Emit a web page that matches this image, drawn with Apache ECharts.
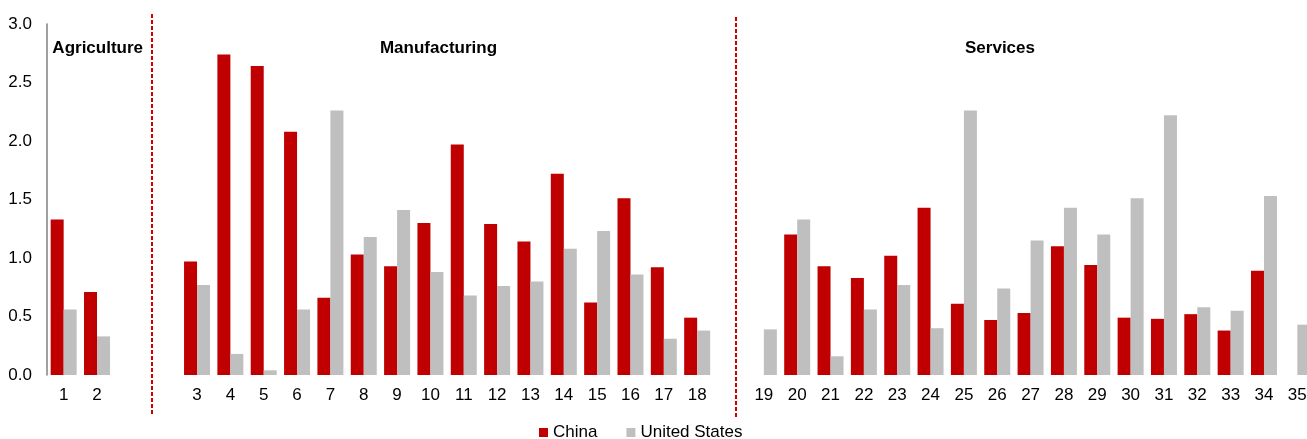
<!DOCTYPE html>
<html>
<head>
<meta charset="utf-8">
<script src="https://cdn.jsdelivr.net/npm/echarts@6/dist/echarts.min.js"></script>
<style>
html,body{margin:0;padding:0;background:#fff;}
#chart{width:1307px;height:439px;}
</style>
</head>
<body>
<div id="chart"></div>
<script>
// Categories (blank entries are spacing slots between sectors)
const categories = ["1","2","","\u200b","3","4","5","6","7","8","9","10","11","12","13","14","15","16","17","18","\u200b\u200b","19","20","21","22","23","24","25","26","27","28","29","30","31","32","33","34","35"];
const chinaValues = [1.33,0.71,null,null,0.97,2.74,2.64,2.08,0.66,1.03,0.93,1.30,1.97,1.29,1.14,1.72,0.62,1.51,0.92,0.49,null,null,1.20,0.93,0.83,1.02,1.43,0.61,0.47,0.53,1.10,0.94,0.49,0.48,0.52,0.38,0.89,null];
const usValues = [0.56,0.33,null,null,0.77,0.18,0.04,0.56,2.26,1.18,1.41,0.88,0.68,0.76,0.80,1.08,1.23,0.86,0.31,0.38,null,0.39,1.33,0.16,0.56,0.77,0.40,2.26,0.74,1.15,1.43,1.20,1.51,2.22,0.58,0.55,1.53,0.43];
const seriesNames = ["China","United States"];
const sectorLabels = ["Agriculture","Manufacturing","Services"];
const yTicks = {min:0, max:3, interval:0.5};

const FONT = 'Liberation Sans, Arial, sans-serif';
const chart = echarts.init(document.getElementById('chart'), null, {renderer:'canvas'});
const option = {
  animation:false,
  backgroundColor:'#fff',
  grid:{left:47, right:-7, top:24, bottom:64, outerBoundsMode:'none', containLabel:false},
  legend:{
    data:seriesNames, left:539, top:424, padding:0, itemWidth:9, itemHeight:9, itemGap:29,
    icon:'rect', textStyle:{fontFamily:FONT, fontSize:17, color:'#000'}
  },
  xAxis:{
    type:'category', data:categories,
    axisLine:{show:false}, axisTick:{show:false},
    axisLabel:{interval:0, margin:12, fontFamily:FONT, fontSize:17, color:'#000'},
    splitLine:{show:false}
  },
  yAxis:{
    type:'value', min:yTicks.min, max:yTicks.max, interval:yTicks.interval,
    axisLine:{show:true, lineStyle:{color:'#808080', width:1.5}},
    axisTick:{show:false}, splitLine:{show:false},
    axisLabel:{margin:15, fontFamily:FONT, fontSize:17, color:'#000', formatter:v=>v.toFixed(1)}
  },
  series:[
    {name:seriesNames[0], type:'bar', data:chinaValues, barWidth:13, barGap:'0%', itemStyle:{color:'#C00000'}},
    {name:seriesNames[1], type:'bar', data:usValues, barWidth:13, barGap:'0%', itemStyle:{color:'#BFBFBF'}}
  ]
};
chart.setOption(option);

const c0 = chart.convertToPixel({xAxisIndex:0}, 0);
const c1 = chart.convertToPixel({xAxisIndex:0}, 1);
const step = c1 - c0;
const sep1 = Math.round(chart.convertToPixel({xAxisIndex:0}, 2) + 0.64*step);
const sep2 = Math.round(chart.convertToPixel({xAxisIndex:0}, 20) + 0.16*step);
const dashStyle = {stroke:'#D00000', lineWidth:2, lineDash:[4,2]};
const textStyleBase = {fontFamily:FONT, fontSize:17, fontWeight:'bold', fill:'#000', align:'center', verticalAlign:'middle'};
chart.setOption({
  graphic:[
    {type:'line', shape:{x1:sep1, y1:14, x2:sep1, y2:416}, style:dashStyle, silent:true},
    {type:'line', shape:{x1:sep2, y1:17, x2:sep2, y2:418}, style:dashStyle, silent:true},
    {type:'text', x:97.7, y:48, style:Object.assign({text:sectorLabels[0]}, textStyleBase)},
    {type:'text', x:438.5, y:48, style:Object.assign({text:sectorLabels[1]}, textStyleBase)},
    {type:'text', x:1000, y:48, style:Object.assign({text:sectorLabels[2]}, textStyleBase)}
  ]
});
</script>
</body>
</html>
